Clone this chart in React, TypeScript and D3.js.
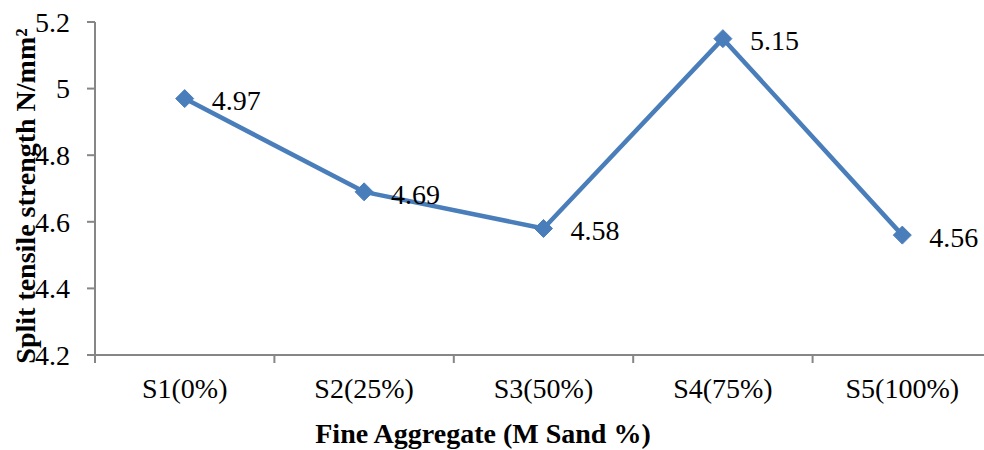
import React from "react";
import * as d3 from "d3";

const categories = ["S1(0%)", "S2(25%)", "S3(50%)", "S4(75%)", "S5(100%)"];
const values = [4.97, 4.69, 4.58, 5.15, 4.56];
const yTicks = [4.2, 4.4, 4.6, 4.8, 5, 5.2];

const FONT = "Liberation Serif, Times New Roman, serif";

export default function App() {
  const W = 984, H = 450;
  const left = 95, right = 992, top = 22, bottom = 355;
  const x = d3.scaleBand<string>().domain(categories).range([left, right]);
  const y = d3.scaleLinear().domain([4.2, 5.2]).range([bottom, top]);
  const cx = (c: string) => (x(c) as number) + x.bandwidth() / 2;
  const line = d3.line<number>().x((_, i) => cx(categories[i])).y((d) => y(d));
  const axisColor = "#868686";
  const blue = "#4a7ebb";
  const bounds = [left, ...categories.map((c) => (x(c) as number) + x.bandwidth())];
  const ts = { fontFamily: FONT };
  return (
    <svg width={W} height={H} style={{ position: "absolute", left: 0, top: 0, fontFamily: FONT }}>
      <rect width={W} height={H} fill="#fff" />
      <line x1={left} x2={left} y1={top} y2={bottom} stroke={axisColor} strokeWidth={2} />
      <line x1={left} x2={right} y1={bottom} y2={bottom} stroke={axisColor} strokeWidth={2} />
      {yTicks.map((t) => (
        <g key={t}>
          <line x1={left - 8} x2={left} y1={y(t)} y2={y(t)} stroke={axisColor} strokeWidth={2} />
          <text x={70} y={y(t)} dy="0.35em" textAnchor="end" fontSize={28} fill="#000" style={ts}>
            {d3.format("")(t)}
          </text>
        </g>
      ))}
      {bounds.map((b, i) => (
        <line key={i} x1={b} x2={b} y1={bottom} y2={bottom + 8} stroke={axisColor} strokeWidth={2} />
      ))}
      {categories.map((c) => (
        <text key={c} x={cx(c)} y={398} textAnchor="middle" fontSize={28} fill="#000" style={ts}>
          {c}
        </text>
      ))}
      <text x={483} y={443} textAnchor="middle" fontSize={28} fontWeight="bold" fill="#000" style={ts}>
        Fine Aggregate (M Sand %)
      </text>
      <text
        transform={`translate(35, 196) rotate(-90)`}
        textAnchor="middle"
        fontSize={28}
        fontWeight="bold"
        fill="#000"
        style={ts}
      >
        Split tensile strength N/mm²
      </text>
      <path d={line(values) || ""} fill="none" stroke={blue} strokeWidth={4.5} strokeLinejoin="round" />
      {values.map((v, i) => {
        const px = cx(categories[i]);
        const py = y(v);
        const s = 9;
        return (
          <g key={i}>
            <path d={`M${px},${py - s}L${px + s},${py}L${px},${py + s}L${px - s},${py}Z`} fill={blue} stroke={blue} strokeWidth={1} />
            <text x={px + 27} y={py + 2} dy="0.35em" fontSize={28} fill="#000" style={ts}>
              {v.toFixed(2)}
            </text>
          </g>
        );
      })}
    </svg>
  );
}
